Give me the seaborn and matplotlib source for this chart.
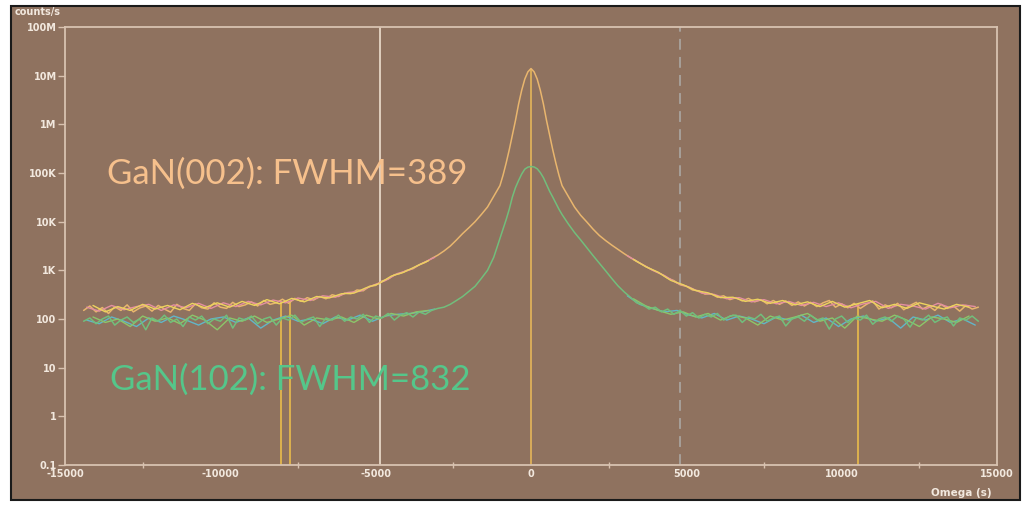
import numpy as np
import pandas as pd
import matplotlib
matplotlib.use("Agg")
import matplotlib.pyplot as plt
import seaborn as sns
from matplotlib.patches import Rectangle
from matplotlib.ticker import FixedLocator, NullLocator, MultipleLocator

# ---- data ----
# scan grid: coarse in the tails, finer across the peak
omega_left = np.arange(-14400, -1100, 200)
omega_mid = np.arange(-1000, 1001, 100)
omega_right = np.arange(1200, 14401, 200)
omega = np.concatenate([omega_left, omega_mid, omega_right])

# GaN(002) main trace
counts_002_left = [150, 185, 140, 172, 130, 178, 150, 195, 140, 168, 185, 145, 190, 160, 138, 200, 165,
                   150, 205, 170, 160, 215, 175, 165, 220, 180, 195, 225, 185, 240, 200, 215, 255, 210,
                   265, 230, 275, 245, 290, 260, 315, 290, 340, 330, 395, 380, 470, 490, 600, 660, 810,
                   870, 1000, 1080, 1300, 1460, 1750, 2050, 2500, 3150, 4200, 5700, 7500, 10000, 14000,
                   20000, 33000]
counts_002_mid = [55000, 90000, 160000, 300000, 600000, 1200000, 2600000, 5000000, 8500000, 12000000,
                  14000000, 12000000, 8500000, 5000000, 2600000, 1200000, 600000, 300000, 160000, 90000,
                  55000]
counts_002_right = [33000, 20000, 13500, 9800, 7000, 5200, 4100, 3300, 2700, 2200, 1820, 1520, 1300, 1110,
                    960, 830, 690, 615, 505, 470, 395, 380, 325, 330, 280, 300, 250, 275, 235, 265, 225,
                    250, 205, 240, 200, 235, 190, 225, 185, 220, 180, 215, 240, 175, 205, 170, 210, 165,
                    200, 235, 160, 195, 170, 210, 155, 190, 220, 160, 185, 150, 200, 165, 185, 145, 190,
                    160, 175]
counts_002 = counts_002_left + counts_002_mid + counts_002_right

# GaN(102) main trace
counts_102_left = [90, 105, 80, 100, 115, 75, 95, 110, 85, 100, 60, 105, 90, 120, 85, 100, 70, 110, 95,
                   115, 80, 100, 90, 120, 65, 105, 95, 115, 80, 100, 110, 75, 105, 95, 120, 85, 100, 110,
                   70, 105, 95, 120, 90, 110, 100, 125, 85, 115, 105, 130, 95, 120, 135, 110, 140, 125,
                   150, 165, 175, 200, 240, 290, 370, 470, 680, 1000, 1850]
counts_102_mid = [4500, 7000, 11000, 18000, 32000, 50000, 70000, 95000, 120000, 132000, 136000, 133000,
                  122000, 102000, 80000, 58000, 42000, 32000, 24000, 18000, 14000]
counts_102_right = [9000, 6000, 4200, 2900, 2000, 1400, 980, 680, 480, 360, 280, 215, 195, 160, 175, 140,
                    160, 125, 150, 115, 135, 105, 125, 110, 130, 95, 115, 120, 85, 110, 100, 125, 90, 105,
                    115, 72, 100, 110, 90, 120, 95, 105, 62, 100, 115, 85, 105, 95, 120, 78, 100, 110, 90,
                    115, 100, 68, 105, 95, 120, 85, 100, 110, 72, 105, 95, 115, 90]
counts_102 = counts_102_left + counts_102_mid + counts_102_right

# extra overlaid traces, tails only (two offset grids)
omega_ov1 = np.concatenate([np.arange(-14300, -3000, 400), np.arange(3100, 14301, 400)])
omega_ov2 = np.concatenate([np.arange(-14100, -3000, 400), np.arange(3300, 14301, 400)])

counts_002_pink = [175, 145, 190, 155, 180, 200, 150, 195, 170, 210, 165, 215, 180, 230, 195, 245, 215,
                   270, 240, 300, 280, 350, 370, 490, 610, 860, 1020, 1400, 1850,
                   2000, 1420, 1010, 780, 545, 450, 340, 320, 260, 275, 225, 250, 205, 230, 190, 220, 180,
                   215, 170, 205, 230, 165, 200, 185, 160, 210, 170, 195, 180]
counts_002_yellow = [190, 140, 180, 150, 200, 160, 190, 155, 210, 170, 215, 175, 230, 190, 250, 205, 265,
                     225, 290, 270, 330, 340, 440, 530, 760, 910, 1210, 1580,
                     1680, 1180, 910, 620, 505, 385, 345, 275, 280, 230, 255, 210, 240, 195, 225, 180, 230,
                     175, 205, 240, 170, 200, 165, 215, 185, 160, 200, 175]
counts_102_cyan = [95, 80, 110, 90, 70, 105, 85, 115, 95, 75, 100, 110, 85, 105, 65, 95, 115, 90, 100, 80,
                   110, 95, 120, 90, 115, 125, 130, 140, 160,
                   300, 200, 165, 140, 150, 120, 105, 130, 95, 115, 100, 80, 110, 95, 120, 85, 105, 70,
                   100, 115, 90, 105, 65, 110, 95, 120, 85, 100, 75]
counts_102_lime = [110, 85, 100, 70, 115, 90, 105, 80, 120, 95, 60, 105, 90, 115, 85, 100, 120, 75, 105, 95,
                   110, 85, 120, 100, 130, 115, 140, 150,
                   260, 185, 150, 125, 140, 110, 130, 95, 120, 105, 75, 115, 95, 110, 130, 90, 105, 65, 115,
                   100, 90, 120, 95, 70, 110, 100, 85, 115]

# dropouts / markers
dropout_omega = [-8050, -7760, 10530]
dropout_top = [230, 230, 200]
marker_solid = -4850
marker_dashed = 4800

y_ticks = [0.1, 1, 10, 100, 1e3, 1e4, 1e5, 1e6, 1e7, 1e8]
y_labels = ["0.1", "1", "10", "100", "1K", "10K", "100K", "1M", "10M", "100M"]
x_ticks = [-15000, -10000, -5000, 0, 5000, 10000, 15000]
x_labels = ["-15000", "-10000", "-5000", "0", "5000", "10000", "15000"]

label_002 = "GaN(002): FWHM=389"
label_102 = "GaN(102): FWHM=832"

# ---- style ----
bg = "#8F725F"
frame = "#D8C2B0"
tick_col = "#F2E8DE"

sns.set_theme(style="white")
plt.rcParams["font.family"] = ["DejaVu Sans"]

fig = plt.figure(figsize=(10.28, 5.05), dpi=100, facecolor="white")
fig.patches.append(Rectangle((11 / 1028, 5 / 505), 1009 / 1028, 494 / 505, transform=fig.transFigure,
                             facecolor=bg, edgecolor="#1a1a1a", lw=1.5, zorder=-5))
ax = fig.add_axes([65 / 1028, 1 - 465 / 505, 932 / 1028, 438 / 505])
ax.set_facecolor(bg)

ax.set_yscale("log")
ax.set_xlim(-15000, 15000)
ax.set_ylim(0.1, 1e8)

# marker lines behind the curves
ax.axvline(marker_solid, color="#E6D6C6", lw=1.3, zorder=1)
ax.axvline(marker_dashed, color="#A9A39E", lw=1.3, ls=(0, (6, 4)), zorder=1)
ax.vlines(0, 0.1, max(counts_002), color="#D9AC5A", lw=1.4, zorder=1)
ax.vlines(dropout_omega, 0.1, dropout_top, color="#DDB14E", lw=1.4, zorder=1)


def trace(xs, ys, color, lw, z):
    # tail-only traces are split at the gap so the two sides are not joined
    df = pd.DataFrame({"omega": xs, "counts": ys})
    parts = [df] if len(df) == len(omega) else [df[df.omega < 0], df[df.omega > 0]]
    for part in parts:
        sns.lineplot(data=part, x="omega", y="counts", ax=ax, color=color, lw=lw,
                     estimator=None, zorder=z)


trace(omega_ov1, counts_102_cyan, "#62B6C8", 1.0, 2)
trace(omega_ov2, counts_102_lime, "#8CC66A", 1.0, 2)
trace(omega, counts_102, "#72BE7C", 1.1, 3)
trace(omega, counts_002, "#E9B66E", 1.1, 3)
trace(omega_ov1, counts_002_pink, "#E48FA2", 1.0, 4)
trace(omega_ov2, counts_002_yellow, "#EDD35E", 1.0, 4)

ax.set_xlabel("")
ax.set_ylabel("")

# axes frame and ticks
for s in ax.spines.values():
    s.set_color(frame)
    s.set_linewidth(1.3)
ax.yaxis.set_major_locator(FixedLocator(y_ticks))
ax.yaxis.set_minor_locator(NullLocator())
ax.set_yticklabels(y_labels)
ax.xaxis.set_major_locator(FixedLocator(x_ticks))
ax.set_xticklabels(x_labels)
ax.xaxis.set_minor_locator(MultipleLocator(2500))
ax.tick_params(axis="y", which="major", left=True, direction="out", length=5, width=1, color=frame,
               labelcolor=tick_col, labelsize=7, pad=1)
ax.tick_params(axis="x", which="major", bottom=True, direction="out", length=0, color=frame,
               labelcolor=tick_col, labelsize=7, pad=3)
ax.tick_params(axis="x", which="minor", bottom=True, direction="inout", length=5, width=1, color=frame)
for lab in ax.get_xticklabels() + ax.get_yticklabels():
    lab.set_fontweight("bold")

fig.text(15 / 1028, 1 - 12 / 505, "counts/s", color=tick_col, fontsize=7, fontweight="bold",
         va="center", ha="left")
fig.text(992 / 1028, 1 - 493 / 505, "Omega (s)", color=tick_col, fontsize=7.5, fontweight="bold",
         va="center", ha="right")

ax.text(107 / 1028, 1 - 174 / 505, label_002, transform=fig.transFigure, color="#F6C08C",
        fontsize=25, family=["Lato", "DejaVu Sans"], va="center", ha="left", zorder=5)
ax.text(110 / 1028, 1 - 380 / 505, label_102, transform=fig.transFigure, color="#55C68A",
        fontsize=25, family=["Lato", "DejaVu Sans"], va="center", ha="left", zorder=5)

fig.savefig("out.png", dpi=100, facecolor="white")
